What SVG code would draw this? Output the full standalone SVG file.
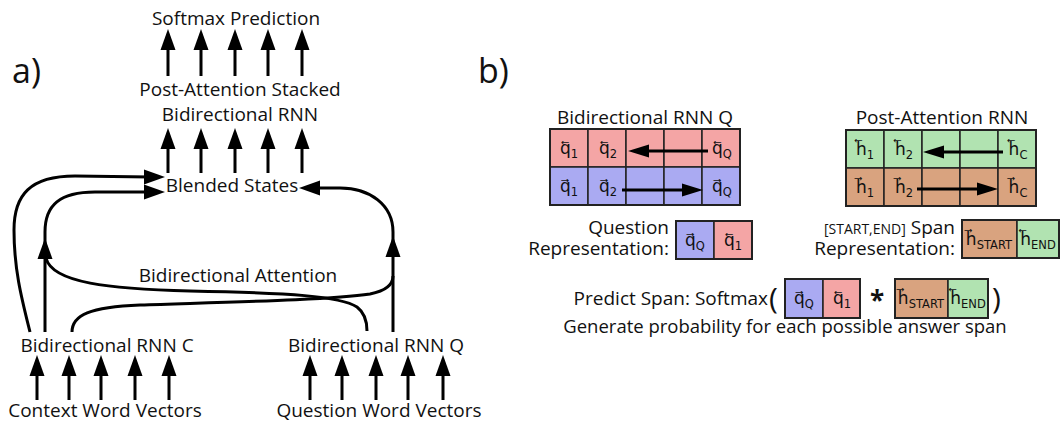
<svg xmlns="http://www.w3.org/2000/svg" width="1061" height="421" viewBox="0 0 1061 421">
  <defs>
    <style>
      text{font-family:"Open Sans","Noto Sans",sans-serif;fill:#111}
      .t{font-size:19px}
      .mid{text-anchor:middle}
      .end{text-anchor:end}
      .big{font-size:34px}
      .lbl{font-family:"DejaVu Sans",sans-serif;font-size:17px;text-anchor:middle}
      .sub{font-size:11.5px}
      .small{font-size:14px}
      .ln{fill:none;stroke:#000;stroke-width:3}
      .sh{fill:none;stroke:#000;stroke-width:3}
      .b{fill:#aaaaf2;stroke:#222;stroke-width:1.5}
      .p{fill:#f4a5a5;stroke:#222;stroke-width:1.5}
      .g{fill:#b1e3b1;stroke:#222;stroke-width:1.5}
      .o{fill:#d9a37f;stroke:#222;stroke-width:1.5}
      .frame{fill:none;stroke:#222;stroke-width:2}
    </style>
    <!-- arrowhead pointing along +x, tip at origin -->
    <path id="hd" d="M0,0 L-21,-7.5 L-21,7.5 Z" fill="#000"/>
    <path id="hs" d="M0,0 L-21,-6.5 L-21,6.5 Z" fill="#000"/>
  </defs>

  <!-- ===== panel a ===== -->
  <text class="big" x="12" y="83">a)</text>

  <g id="softmax-prediction"><text class="t mid" x="236" y="25">Softmax Prediction</text></g>
  <g id="post-attention-rnn">
    <text class="t mid" x="240" y="96">Post-Attention Stacked<tspan x="240" dy="25">Bidirectional RNN</tspan></text>
  </g>
  <g id="blended-states"><text class="t mid" x="232" y="192">Blended States</text></g>
  <g id="bidirectional-attention"><text class="t mid" x="238" y="282">Bidirectional Attention</text></g>
  <g id="rnn-c"><text class="t mid" x="107" y="352">Bidirectional RNN C</text></g>
  <g id="rnn-q"><text class="t mid" x="376" y="352">Bidirectional RNN Q</text></g>
  <g id="context-vectors"><text class="t mid" x="105" y="417">Context Word Vectors</text></g>
  <g id="question-vectors"><text class="t mid" x="379" y="417">Question Word Vectors</text></g>

  <g id="connectors">
    <!-- post-attention RNN -> softmax -->
    <path class="sh" d="M168,76V44 M201,76V44 M235,76V44 M268,76V44 M302,76V44"/>
    <use href="#hd" transform="translate(168,29) rotate(-90)"/>
    <use href="#hd" transform="translate(201,29) rotate(-90)"/>
    <use href="#hd" transform="translate(235,29) rotate(-90)"/>
    <use href="#hd" transform="translate(268,29) rotate(-90)"/>
    <use href="#hd" transform="translate(302,29) rotate(-90)"/>
    <!-- blended states -> post-attention RNN -->
    <path class="sh" d="M168,173V143 M201,173V143 M235,173V143 M268,173V143 M302,173V143"/>
    <use href="#hd" transform="translate(168,128) rotate(-90)"/>
    <use href="#hd" transform="translate(201,128) rotate(-90)"/>
    <use href="#hd" transform="translate(235,128) rotate(-90)"/>
    <use href="#hd" transform="translate(268,128) rotate(-90)"/>
    <use href="#hd" transform="translate(302,128) rotate(-90)"/>
    <!-- word vectors -> RNNs -->
    <path class="sh" d="M37,400V370 M69,400V370 M101,400V370 M135,400V370 M169,400V370"/>
    <use href="#hd" transform="translate(37,355) rotate(-90)"/>
    <use href="#hd" transform="translate(69,355) rotate(-90)"/>
    <use href="#hd" transform="translate(101,355) rotate(-90)"/>
    <use href="#hd" transform="translate(135,355) rotate(-90)"/>
    <use href="#hd" transform="translate(169,355) rotate(-90)"/>
    <path class="sh" d="M310,400V370 M342,400V370 M376,400V370 M408,400V370 M443,400V370"/>
    <use href="#hd" transform="translate(310,355) rotate(-90)"/>
    <use href="#hd" transform="translate(342,355) rotate(-90)"/>
    <use href="#hd" transform="translate(376,355) rotate(-90)"/>
    <use href="#hd" transform="translate(408,355) rotate(-90)"/>
    <use href="#hd" transform="translate(443,355) rotate(-90)"/>

    <!-- RNN C skip connection to blended states -->
    <path class="ln" d="M30,332 C22,300 14,270 14,230 C14,195 30,176 75,176 L150,177"/>
    <use href="#hd" transform="translate(165,177)"/>
    <!-- RNN C through attention to blended states -->
    <path class="ln" d="M45,332 L45,232 C45,205 60,192 95,192 L150,192"/>
    <use href="#hd" transform="translate(45,238) rotate(-90)"/>
    <use href="#hd" transform="translate(165,192)"/>
    <!-- RNN Q through attention to blended states -->
    <path class="ln" d="M393,332 L393,232 C393,205 370,188 340,188 L312,188"/>
    <use href="#hd" transform="translate(393,236) rotate(-90)"/>
    <use href="#hd" transform="translate(299,188) rotate(180)"/>
    <!-- attention cross links -->
    <path class="ln" d="M46,258 C52,283 110,289 190,291 C290,293 340,296 357,307 C365,313 367,322 367,331"/>
    <path class="ln" d="M72,332 C72,315 90,307 140,305 C230,302 330,300 370,294 C385,291 393,285 393,276"/>
  </g>

  <!-- ===== panel b ===== -->
  <text class="big" x="478" y="83">b)</text>

  <!-- question encoder grid -->
  <g id="grid-q">
    <text class="t mid" x="645" y="124">Bidirectional RNN Q</text>
    <rect class="p" x="550" y="129" width="38" height="38"/>
    <rect class="p" x="588" y="129" width="38" height="38"/>
    <rect class="p" x="626" y="129" width="38" height="38"/>
    <rect class="p" x="664" y="129" width="38" height="38"/>
    <rect class="p" x="702" y="129" width="38" height="38"/>
    <rect class="b" x="550" y="167" width="38" height="38"/>
    <rect class="b" x="588" y="167" width="38" height="38"/>
    <rect class="b" x="626" y="167" width="38" height="38"/>
    <rect class="b" x="664" y="167" width="38" height="38"/>
    <rect class="b" x="702" y="167" width="38" height="38"/>
    <rect class="frame" x="550" y="129" width="190" height="76"/>
    <text class="lbl" x="569" y="154">q&#x20D6;<tspan class="sub" dy="4">1</tspan></text>
    <text class="lbl" x="608" y="154">q&#x20D6;<tspan class="sub" dy="4">2</tspan></text>
    <text class="lbl" x="722" y="154">q&#x20D6;<tspan class="sub" dy="4">Q</tspan></text>
    <text class="lbl" x="569" y="192">q&#x20D7;<tspan class="sub" dy="4">1</tspan></text>
    <text class="lbl" x="608" y="192">q&#x20D7;<tspan class="sub" dy="4">2</tspan></text>
    <text class="lbl" x="722" y="192">q&#x20D7;<tspan class="sub" dy="4">Q</tspan></text>
    <path class="sh" d="M708,151 H645"/>
    <use href="#hs" transform="translate(628,151) rotate(180)"/>
    <path class="sh" d="M622,190 H686"/>
    <use href="#hs" transform="translate(703,190)"/>
  </g>

  <!-- post-attention grid -->
  <g id="grid-h">
    <text class="t mid" x="942" y="124">Post-Attention RNN</text>
    <rect class="g" x="846" y="130" width="38" height="38"/>
    <rect class="g" x="884" y="130" width="38" height="38"/>
    <rect class="g" x="922" y="130" width="38" height="38"/>
    <rect class="g" x="960" y="130" width="38" height="38"/>
    <rect class="g" x="998" y="130" width="38" height="38"/>
    <rect class="o" x="846" y="168" width="38" height="38"/>
    <rect class="o" x="884" y="168" width="38" height="38"/>
    <rect class="o" x="922" y="168" width="38" height="38"/>
    <rect class="o" x="960" y="168" width="38" height="38"/>
    <rect class="o" x="998" y="168" width="38" height="38"/>
    <rect class="frame" x="846" y="130" width="190" height="76"/>
    <text class="lbl" x="865" y="155">h&#x20D6;<tspan class="sub" dy="4">1</tspan></text>
    <text class="lbl" x="904" y="155">h&#x20D6;<tspan class="sub" dy="4">2</tspan></text>
    <text class="lbl" x="1018" y="155">h&#x20D6;<tspan class="sub" dy="4">C</tspan></text>
    <text class="lbl" x="865" y="193">h&#x20D7;<tspan class="sub" dy="4">1</tspan></text>
    <text class="lbl" x="904" y="193">h&#x20D7;<tspan class="sub" dy="4">2</tspan></text>
    <text class="lbl" x="1018" y="193">h&#x20D7;<tspan class="sub" dy="4">C</tspan></text>
    <path class="sh" d="M1003,152 H940"/>
    <use href="#hs" transform="translate(923,152) rotate(180)"/>
    <path class="sh" d="M917,189 H981"/>
    <use href="#hs" transform="translate(998,189)"/>
  </g>

  <!-- question representation -->
  <g id="question-representation">
    <text class="t end" x="669" y="234">Question<tspan x="669" dy="21">Representation:</tspan></text>
    <rect class="b" x="676" y="221" width="38" height="38"/>
    <rect class="p" x="714" y="221" width="38" height="38"/>
    <rect class="frame" x="676" y="221" width="76" height="38"/>
    <text class="lbl" x="695" y="246">q&#x20D7;<tspan class="sub" dy="4">Q</tspan></text>
    <text class="lbl" x="733" y="246">q&#x20D6;<tspan class="sub" dy="4">1</tspan></text>
  </g>

  <!-- span representation -->
  <g id="span-representation">
    <text class="t end" x="955" y="234"><tspan class="small">[START,END]</tspan> Span<tspan x="955" dy="21">Representation:</tspan></text>
    <rect class="o" x="962" y="220" width="55" height="38"/>
    <rect class="g" x="1017" y="220" width="42" height="38"/>
    <rect class="frame" x="962" y="220" width="97" height="38"/>
    <text class="lbl" x="989" y="245">h&#x20D7;<tspan class="sub" dy="4">START</tspan></text>
    <text class="lbl" x="1038" y="245">h&#x20D6;<tspan class="sub" dy="4">END</tspan></text>
  </g>

  <!-- span prediction -->
  <g id="predict-span">
    <text class="t end" x="768" y="305">Predict Span: Softmax</text>
    <text x="769" y="309" style="font-size:30px">(</text>
    <rect class="b" x="785" y="279" width="38" height="39"/>
    <rect class="p" x="823" y="279" width="37" height="39"/>
    <rect class="frame" x="785" y="279" width="75" height="39"/>
    <text class="lbl" x="804" y="304">q&#x20D7;<tspan class="sub" dy="4">Q</tspan></text>
    <text class="lbl" x="842" y="304">q&#x20D6;<tspan class="sub" dy="4">1</tspan></text>
    <text x="877" y="310" style="font-size:26px;font-weight:bold;text-anchor:middle">*</text>
    <rect class="o" x="895" y="279" width="53" height="39"/>
    <rect class="g" x="948" y="279" width="40" height="39"/>
    <rect class="frame" x="895" y="279" width="93" height="39"/>
    <text class="lbl" x="921" y="304">h&#x20D7;<tspan class="sub" dy="4">START</tspan></text>
    <text class="lbl" x="968" y="304">h&#x20D6;<tspan class="sub" dy="4">END</tspan></text>
    <text x="992" y="309" style="font-size:30px">)</text>
    <text class="t mid" x="785" y="333" style="font-size:18.5px">Generate probability for each possible answer span</text>
  </g>
</svg>
